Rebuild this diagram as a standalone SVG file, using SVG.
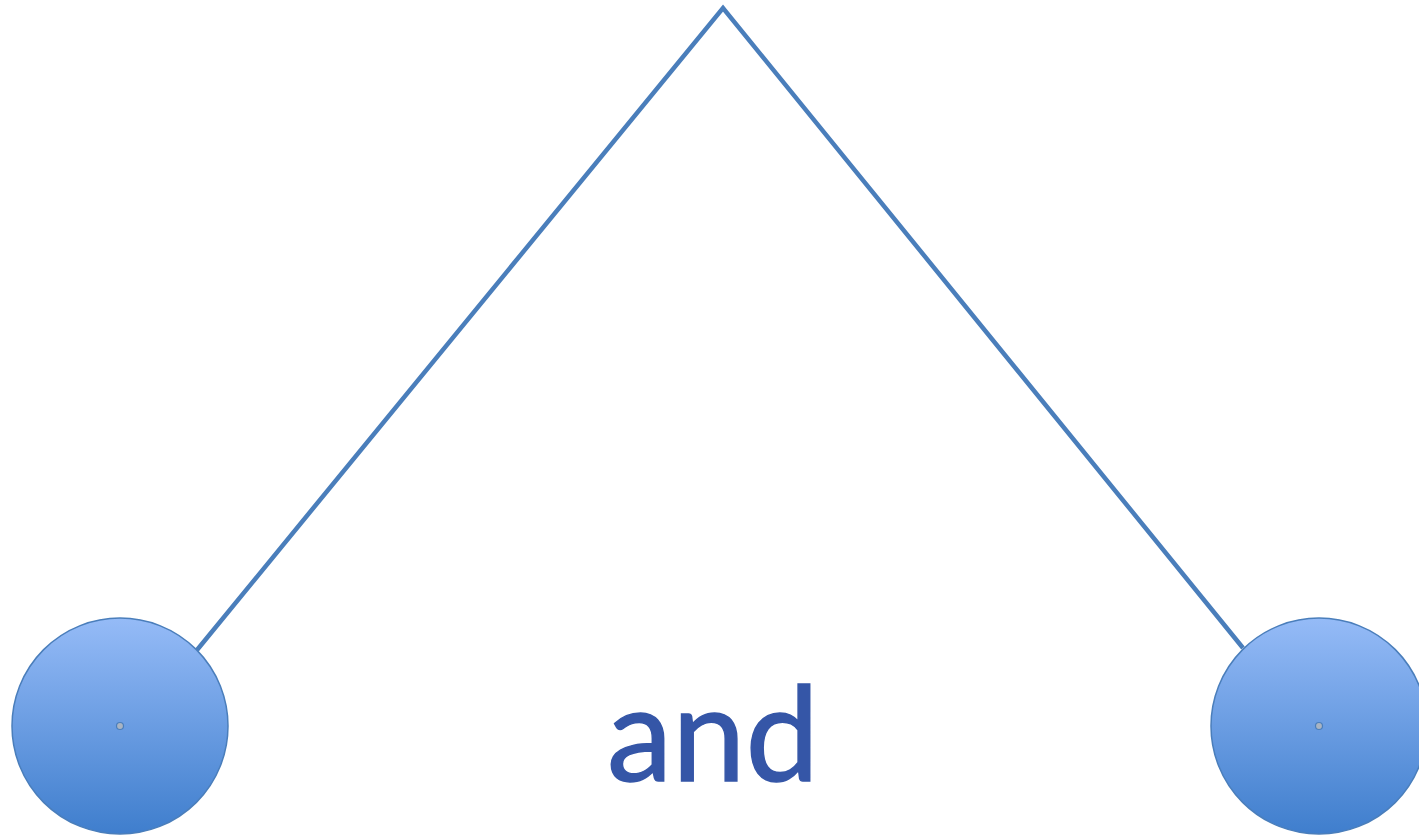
<svg xmlns="http://www.w3.org/2000/svg" width="1419" height="838" viewBox="0 0 1419 838">
<defs>
<linearGradient id="g" x1="0" y1="0" x2="0" y2="1">
<stop offset="0" stop-color="#95bbf7"/>
<stop offset="1" stop-color="#3f7ecd"/>
</linearGradient>
<style>
.node circle.b{fill:url(#g);stroke:#4a7ebb;stroke-width:1.5}
.node circle.c{fill:#a9b4c2;stroke:#4a7ebb;stroke-width:1.2}
.edge{stroke:#4a7ebb;stroke-width:4.5;fill:none;stroke-linejoin:miter}
.lbl{font-family:Lato,"Open Sans",sans-serif;font-size:131px;fill:#3556a7;stroke:#3556a7;stroke-width:1.4}
</style>
</defs>
<rect width="1419" height="838" fill="#ffffff"/>
<g id="connectors">
<polyline class="edge" points="197,650 723,8 1243,648"/>
</g>
<g id="node-left" class="node">
<circle class="b" cx="120" cy="726" r="108"/>
<circle class="c" cx="120" cy="726" r="3.5"/>
</g>
<g id="node-right" class="node">
<circle class="b" cx="1319" cy="726" r="108"/>
<circle class="c" cx="1319" cy="726" r="3.5"/>
</g>
<g id="label">
<text class="lbl" x="607" y="781" textLength="212" lengthAdjust="spacingAndGlyphs">and</text>
</g>
</svg>
